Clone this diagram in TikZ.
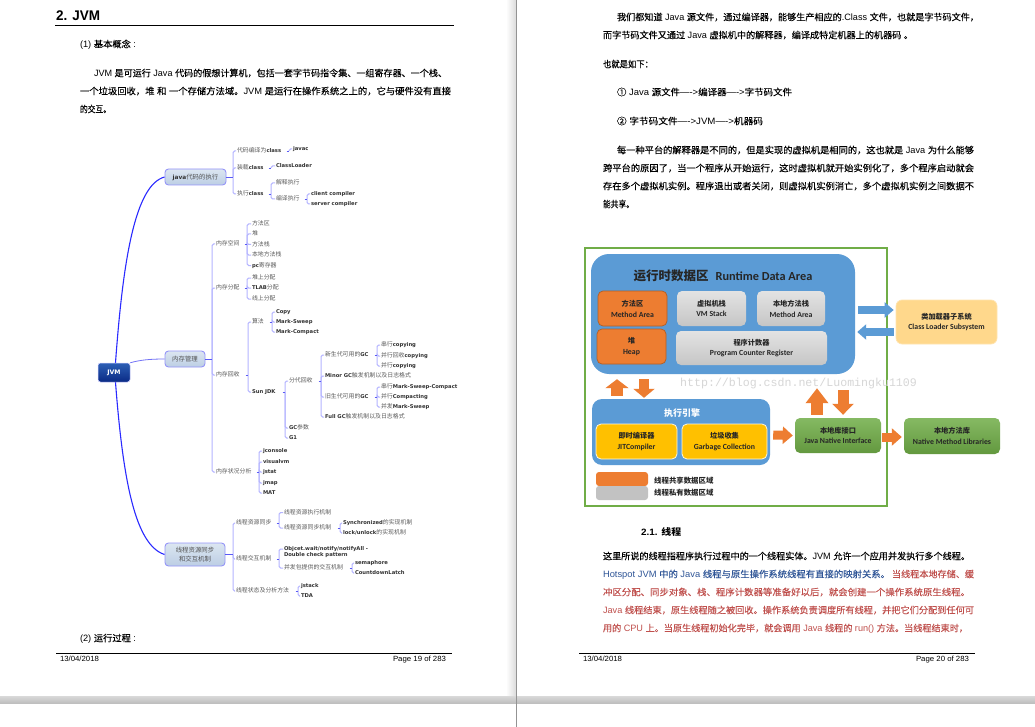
\documentclass[tikz,border=0pt]{standalone}
\usepackage{fontspec}
\usetikzlibrary{arrows.meta}
\setmainfont{Liberation Sans}
\newfontfamily\cjk{Noto Sans CJK SC}
\newfontfamily\cjkm[FakeBold=0.08]{Noto Sans CJK SC}
\newfontfamily\dejavu{DejaVu Sans}
\newfontfamily\carlito{Carlito}
\newfontfamily\wmono{Liberation Mono}
% automatic font switching between Latin and CJK
\XeTeXinterchartokenstate=1
\newXeTeXintercharclass\cjkcls
\count255="2460 \loop \XeTeXcharclass\count255=\cjkcls \advance\count255 by 1 \ifnum\count255<"2474 \repeat
\count255="2E80 \loop \XeTeXcharclass\count255=\cjkcls \advance\count255 by 1 \ifnum\count255<"A000 \repeat
\count255="FF00 \loop \XeTeXcharclass\count255=\cjkcls \advance\count255 by 1 \ifnum\count255<"FFF0 \repeat
\def\cjkcur{\cjk}\def\latcur{\rmfamily}
\XeTeXinterchartoks 0 \cjkcls = {\cjkcur}
\XeTeXinterchartoks 4095 \cjkcls = {\cjkcur}
\XeTeXinterchartoks \cjkcls 0 = {\latcur}
\XeTeXinterchartoks \cjkcls 4095 = {\latcur}
\definecolor{mmgray}{HTML}{5A5A5A}
\definecolor{mmdark}{HTML}{333333}
\definecolor{barblue}{HTML}{B4B4FF}
\definecolor{stubblue}{HTML}{5A5AF5}
\definecolor{rootcurve}{HTML}{2A2AFF}
\definecolor{wgreen}{HTML}{70AD47}
\definecolor{wblue}{HTML}{5B9BD5}
\definecolor{worange}{HTML}{ED7D31}
\definecolor{wyellow}{HTML}{FFC000}
\definecolor{wpeach}{HTML}{FFD88C}
\definecolor{tblue}{HTML}{2F5597}
\definecolor{tred}{HTML}{C0504D}
\definecolor{boxtop}{HTML}{DCE6F1}
\definecolor{boxbot}{HTML}{BCCEE4}
\definecolor{roottop}{HTML}{2C5FB5}
\definecolor{rootbot}{HTML}{0A2A85}
\newcommand\mmset{\def\cjkcur{\cjk\mdseries\fontsize{5.9}{7}\selectfont\color{mmgray}}\def\latcur{\dejavu\bfseries\fontsize{5.25}{7}\selectfont\color{mmdark}}\latcur}
\newcommand\mmbig{\def\cjkcur{\cjk\mdseries\fontsize{6.4}{9}\selectfont\color{mmdark!85}}\def\latcur{\dejavu\bfseries\fontsize{5.8}{9}\selectfont\color{mmdark}}\latcur}
\newcommand\dset[2]{\def\cjkcur{\cjk\bfseries\fontsize{#1}{#1}\selectfont}\def\latcur{\carlito\bfseries\fontsize{#2}{#2}\selectfont}\latcur}
\newcommand\bset{\def\cjkcur{\cjkm\mdseries}\def\latcur{\rmfamily\mdseries}\fontsize{9.2}{11}\selectfont\rmfamily}
\tikzset{
 bodytext/.style={anchor=west,inner sep=0pt,outer sep=0pt,text height=7pt,text depth=2pt,font=\bset,yshift=-1pt},
 mm/.style={anchor=west,inner xsep=1pt,inner ysep=0pt,outer sep=0pt,text height=4.5pt,text depth=1.2pt,font=\mmset},
 mmtwo/.style={anchor=west,inner xsep=1pt,inner ysep=0pt,outer sep=0pt,align=left,font=\mmset},
 mainbox/.style={draw=stubblue!65,line width=0.9pt,rounded corners=3.5pt,top color=boxtop,bottom color=boxbot,inner sep=0pt,font=\mmbig,align=center},
 rootbox/.style={draw=blue!20,line width=0.5pt,rounded corners=2.5pt,top color=roottop,bottom color=rootbot,text=white,inner sep=0pt,font=\dejavu\bfseries\fontsize{6.2}{8}\selectfont},
 rootlink/.style={draw=rootcurve,line width=1.1pt},
 palelink/.style={draw=stubblue!85,line width=0.8pt},
 barline/.style={draw=barblue,line width=1pt,rounded corners=1.6pt},
 stub/.style={draw=stubblue,line width=0.9pt},
 orangebox/.style={fill=worange,draw=worange!75!black,line width=0.7pt,rounded corners=5pt,inner sep=0pt,align=center,text=black!85},
 graybox/.style={top color=gray!22,bottom color=gray!45,rounded corners=5pt,inner sep=0pt,align=center,text=black!85},
 yellowbox/.style={fill=wyellow,draw=white!85!wyellow,line width=0.8pt,rounded corners=5pt,inner sep=0pt,align=center,text=black!85},
 greenbox/.style={top color=wgreen!85,bottom color=wgreen!88!black,rounded corners=5pt,inner sep=0pt,align=center,text=black!85},
 lightbox/.style={fill=wpeach,draw=wpeach!70,line width=0.7pt,rounded corners=6pt,inner sep=0pt,align=center,text=black!85},
 bluearea/.style={fill=wblue,rounded corners=#1,inner sep=0pt},
 legendgray/.style={fill=gray!48,rounded corners=3pt,inner sep=0pt},
 fat/.style n args={3}{line width=#1pt,-{Triangle[width=#2pt,length=#3pt]}},
}
% body text line fitted to a given width
\newcommand\bl[6][black]{\node[bodytext,text=#1] (#2) at (#3,#4) {\resizebox{#5pt}{\height}{#6}};}
% mind map text
\newcommand\mn[4]{\node[mm] (#1) at ({#2-1},#3) {#4};}
% bracket: parent, x of the bar, children
\newcommand\brk[3]{\coordinate (bx) at (#2,0);
 \foreach \ch in {#3} {\draw[barline] (#1.east -| bx) |- (\ch.west);}
 \draw[stub] ([xshift=-2.5pt]#1.east -| bx) -- (#1.east -| bx);}
\newcommand\brkbox[3]{\coordinate (bx) at (#2,0);
 \foreach \ch in {#3} {\draw[barline] (#1.east -| bx) |- (\ch.west);}
 \draw[stub] (#1.east) -- (#1.east -| bx);}
% box by its corners
\newcommand\cbox[7]{\node[#2,minimum width={(#5-#3)*1pt},minimum height={(#6-#4)*1pt}] (#1) at ({(#3+#5)/2},{(#4+#6)/2}) {#7};}
\begin{document}
\begin{tikzpicture}[x=1pt,y=-1pt]
\useasboundingbox (0,0) rectangle (1035,727);
\fill[white] (0,0) rectangle (1035,727);
% window chrome
\shade[left color=white,right color=gray!28] (506,0) rectangle (516,696);
\shade[top color=gray!30,bottom color=gray!52] (0,696) rectangle (1035,703.5);
\draw[gray!85,line width=0.8pt] (516,0) -- (516,727);

% ---------- left page text
\node[anchor=west,inner sep=0pt,font=\bfseries] (h2) at (56,16) {\resizebox{44pt}{\height}{\fontsize{14}{16}\selectfont 2. JVM}};
\draw[line width=0.9pt] (55,25) -- (454,25);
\bl{p1a}{80}{44}{56}{(1) 基本概念 :}
\bl{p1b}{94}{73}{353}{JVM 是可运行 Java 代码的假想计算机，包括一套字节码指令集、一组寄存器、一个栈、}
\bl{p1c}{80}{91}{371}{一个垃圾回收，堆 和 一个存储方法域。JVM 是运行在操作系统之上的，它与硬件没有直接}
\bl{p1d}{80}{109}{31}{的交互。}
\bl{p1e}{80}{638}{56}{(2) 运行过程 :}
\draw[line width=0.9pt] (56,653) -- (452,653);
\bl{f1a}{60}{658}{39}{\fontsize{7.5}{9}\selectfont 13/04/2018}
\bl{f1b}{393}{658}{53}{\fontsize{7.5}{9}\selectfont Page 19 of 283}

% ---------- mind map
\cbox{root}{rootbox}{98}{363}{130}{382}{JVM}
\cbox{java}{mainbox}{165}{169}{226}{185}{java代码的执行}
\cbox{mem}{mainbox}{165}{351}{205}{367}{内存管理}
\cbox{sync}{mainbox}{165}{543}{225}{566}{线程资源同步\\和交互机制}
\draw[rootlink] ([xshift=1.5pt]root.north) .. controls (123,260) and (135,185) .. (java.west);
\draw[palelink] (root.north east) .. controls (140,360) and (150,359) .. (mem.west);
\draw[rootlink] ([xshift=1.5pt]root.south) .. controls (123,480) and (135,545) .. (sync.west);

% java branch
\mn{a1}{237}{151}{代码编译为class}
\mn{a2}{237}{168}{装载class}
\mn{a3}{237}{194}{执行class}
\brkbox{java}{233}{a1,a2,a3}
\mn{a1a}{293}{149}{javac}
\brk{a1}{289}{a1a}
\mn{a2a}{276}{166}{ClassLoader}
\brk{a2}{271}{a2a}
\mn{a3a}{276}{183}{解释执行}
\mn{a3b}{276}{199}{编译执行}
\brk{a3}{271}{a3a,a3b}
\mn{a3b1}{311}{194}{client compiler}
\mn{a3b2}{311}{204}{server compiler}
\brk{a3b}{307}{a3b1,a3b2}

% memory branch
\mn{m1}{216}{244}{内存空间}
\mn{m2}{216}{288}{内存分配}
\mn{m3}{216}{375}{内存回收}
\mn{m4}{216}{472}{内存状况分析}
\brkbox{mem}{212}{m1,m2,m3,m4}
\mn{m1a}{252}{224}{方法区}
\mn{m1b}{252}{234}{堆}
\mn{m1c}{252}{244.5}{方法栈}
\mn{m1d}{252}{255}{本地方法栈}
\mn{m1e}{252}{265.5}{pc寄存器}
\brk{m1}{247}{m1a,m1b,m1c,m1d,m1e}
\mn{m2a}{252}{278}{堆上分配}
\mn{m2b}{252}{288}{TLAB分配}
\mn{m2c}{252}{299}{线上分配}
\brk{m2}{247}{m2a,m2b,m2c}
\mn{m3a}{252}{322}{算法}
\mn{m3b}{252}{392}{Sun JDK}
\brk{m3}{248}{m3a,m3b}
\mn{al1}{276}{312}{Copy}
\mn{al2}{276}{322}{Mark-Sweep}
\mn{al3}{276}{332}{Mark-Compact}
\brk{m3a}{272}{al1,al2,al3}
\mn{s1}{289}{381}{分代回收}
\mn{s2}{289}{428}{GC参数}
\mn{s3}{289}{438}{G1}
\brk{m3b}{285}{s1,s2,s3}
\mn{g1}{325}{355}{新生代可用的GC}
\mn{g2}{325}{376}{Minor GC触发机制以及日志格式}
\mn{g3}{325}{397}{旧生代可用的GC}
\mn{g4}{325}{417}{Full GC触发机制以及日志格式}
\brk{s1}{321}{g1,g2,g3,g4}
\mn{y1}{381}{345}{串行copying}
\mn{y2}{381}{356}{并行回收copying}
\mn{y3}{381}{366}{并行copying}
\brk{g1}{377}{y1,y2,y3}
\mn{o1}{381}{387}{串行Mark-Sweep-Compact}
\mn{o2}{381}{397}{并行Compacting}
\mn{o3}{381}{407}{并发Mark-Sweep}
\brk{g3}{377}{o1,o2,o3}
\mn{t1}{263}{451}{jconsole}
\mn{t2}{263}{462}{visualvm}
\mn{t3}{263}{472}{jstat}
\mn{t4}{263}{483}{jmap}
\mn{t5}{263}{493}{MAT}
\brk{m4}{259}{t1,t2,t3,t4,t5}

% sync branch
\mn{n1}{236}{523}{线程资源同步}
\mn{n2}{236}{559}{线程交互机制}
\mn{n3}{236}{591}{线程状态及分析方法}
\brkbox{sync}{233}{n1,n2,n3}
\mn{n1a}{284}{512.5}{线程资源执行机制}
\mn{n1b}{284}{528}{线程资源同步机制}
\brk{n1}{279}{n1a,n1b}
\mn{n1b1}{343}{523}{Synchronized的实现机制}
\mn{n1b2}{343}{533}{lock/unlock的实现机制}
\brk{n1b}{340}{n1b1,n1b2}
\node[mmtwo] (n2a) at (283,552) {Objcet.wait/notify/notifyAll -\\[-0.8pt]Double check pattern};
\coordinate (n2at) at ([yshift=3pt]n2a.west);
\mn{n2b}{284}{568}{并发包提供的交互机制}
\brk{n2}{279}{n2at,n2b}
\mn{n2b1}{355}{563}{semaphore}
\mn{n2b2}{355}{573}{CountdownLatch}
\brk{n2b}{352}{n2b1,n2b2}
\mn{n3a}{301}{586}{jstack}
\mn{n3b}{301}{596}{TDA}
\brk{n3}{298}{n3a,n3b}

% ---------- right page text
\bl{r1}{617}{17}{362}{我们都知道 Java 源文件，通过编译器，能够生产相应的.Class 文件，也就是字节码文件，}
\bl{r2}{603}{35}{310}{而字节码文件又通过 Java 虚拟机中的解释器，编译成特定机器上的机器码 。}
\bl{r3}{603}{64}{50}{也就是如下：}
\bl{r4}{617}{92}{175}{① Java 源文件—->编译器—->字节码文件}
\bl{r5}{617}{121}{146}{② 字节码文件—->JVM—->机器码}
\bl{r6}{617}{150}{357}{每一种平台的解释器是不同的，但是实现的虚拟机是相同的，这也就是 Java 为什么能够}
\bl{r7}{603}{168}{371}{跨平台的原因了，当一个程序从开始运行，这时虚拟机就开始实例化了，多个程序启动就会}
\bl{r8}{603}{186}{371}{存在多个虚拟机实例。程序退出或者关闭，则虚拟机实例消亡，多个虚拟机实例之间数据不}
\bl{r9}{603}{204}{31}{能共享。}
\node[anchor=west,inner sep=0pt,font=\bset\bfseries,yshift=-1pt] (h21) at (641,531) {\resizebox{40pt}{\height}{\def\cjkcur{\cjk\bfseries}\def\latcur{\rmfamily\bfseries}2.1. 线程}};
\bl{r10}{603}{556}{367}{这里所说的线程指程序执行过程中的一个线程实体。JVM 允许一个应用并发执行多个线程。}
\bl[tblue]{r11}{603}{574}{287}{Hotspot JVM 中的 Java 线程与原生操作系统线程有直接的映射关系。}
\bl[tred]{r11b}{892}{574}{82}{当线程本地存储、缓}
\bl[tred]{r12}{603}{592}{367}{冲区分配、同步对象、栈、程序计数器等准备好以后，就会创建一个操作系统原生线程。}
\bl[tred]{r13}{603}{610}{371}{Java 线程结束，原生线程随之被回收。操作系统负责调度所有线程，并把它们分配到任何可}
\bl[tred]{r14}{603}{628}{365}{用的 CPU 上。当原生线程初始化完毕，就会调用 Java 线程的 run() 方法。当线程结束时，}
\draw[line width=0.9pt] (579,653) -- (975,653);
\bl{f2a}{583}{658}{39}{\fontsize{7.5}{9}\selectfont 13/04/2018}
\bl{f2b}{916}{658}{53}{\fontsize{7.5}{9}\selectfont Page 20 of 283}

% ---------- JVM runtime figure
\draw[wgreen,line width=1.5pt] (585,248) rectangle (887,506);
\cbox{rda}{bluearea=18pt}{591}{254}{855}{374}{}
\node[inner sep=0pt,text=black!85,font={\dset{12.5}{12.3}}] (rdat) at (723,276) {运行时数据区\hspace{7pt}Runtime Data Area};
\cbox{ma}{orangebox,font={\dset{7.2}{7.8}}}{598}{291}{667}{326}{方法区\\[3pt]Method Area}
\cbox{vm}{graybox,font={\dset{7.2}{7.8}}}{677}{291}{746}{326}{虚拟机栈\\[3pt]VM Stack}
\cbox{nm}{graybox,font={\dset{7.2}{7.8}}}{757}{291}{825}{326}{本地方法栈\\[3pt]Method Area}
\cbox{hp}{orangebox,font={\dset{7.2}{7.8}}}{597}{329}{666}{364}{堆\\[3pt]Heap}
\cbox{pc}{graybox,font={\dset{7.2}{7.8}}}{676}{331}{827}{365}{程序计数器\\[3pt]Program Counter Register}
\cbox{cls}{lightbox,font={\dset{7.2}{7.8}}}{896}{300}{997}{344}{类加载器子系统\\[3pt]Class Loader Subsystem}
\cbox{exe}{bluearea=10pt}{592}{399}{770}{465}{}
\node[inner sep=0pt,text=white,font={\dset{9}{9}}] (exet) at (682,413) {执行引擎};
\cbox{jit}{yellowbox,font={\dset{7.2}{7.8}}}{596}{424}{677}{459}{即时编译器\\[3pt]JITCompiler}
\cbox{gc}{yellowbox,font={\dset{7.2}{7.8}}}{682}{424}{767}{459}{垃圾收集\\[3pt]Garbage Collection}
\cbox{jni}{greenbox,font={\dset{7.2}{7.8}}}{795}{418}{881}{453}{本地库接口\\[3pt]Java Native Interface}
\cbox{nat}{greenbox,font={\dset{7.2}{7.8}}}{904}{418}{1000}{454}{本地方法库\\[3pt]Native Method Libraries}
\cbox{lg1}{orangebox,rounded corners=3pt,draw=none}{596}{472}{648}{486}{}
\cbox{lg2}{legendgray}{596}{486}{648}{500}{}
\node[anchor=west,inner sep=0pt,text=black!85,font={\dset{7.4}{7.4}}] (lt1) at (654,481) {线程共享数据区域};
\node[anchor=west,inner sep=0pt,text=black!85,font={\dset{7.4}{7.4}}] (lt2) at (654,493) {线程私有数据区域};
% block arrows
\draw[fat={8}{15}{9},draw=wblue,fill=wblue] ([shift={(3,-4)}]rda.east) -- ([shift={(-2,-12)}]cls.west);
\draw[fat={8}{15}{9},draw=wblue,fill=wblue] ([shift={(-2,10)}]cls.west) -- ([shift={(2,18)}]rda.east);
\draw[fat={12}{23}{9},draw=worange,fill=worange] ([shift={(-64,-3)}]exe.north) -- ([shift={(-106,5)}]rda.south);
\draw[fat={10}{21}{9},draw=worange,fill=worange] ([shift={(-79,5)}]rda.south) -- ([shift={(-37,-1)}]exe.north);
\draw[fat={12}{22}{15},draw=worange,fill=worange] ([shift={(-21,-3)}]jni.north) -- ([shift={(94,14)}]rda.south);
\draw[fat={11}{21}{11},draw=worange,fill=worange] ([shift={(120,16)}]rda.south) -- ([shift={(5,-3)}]jni.north);
\draw[fat={9}{17}{10},draw=worange,fill=worange] ([shift={(3,3)}]exe.east) -- ([xshift=-2pt]jni.west);
\draw[fat={9}{17}{10},draw=worange,fill=worange] ([shift={(1,1.5)}]jni.east) -- ([shift={(-2,1)}]nat.west);
\node[anchor=west,inner sep=0pt,text=black!16,font=\wmono\fontsize{11.6}{13}\selectfont] (wm) at (680,383) {http://blog.csdn.net/Luomingku1109};
\end{tikzpicture}
\end{document}
